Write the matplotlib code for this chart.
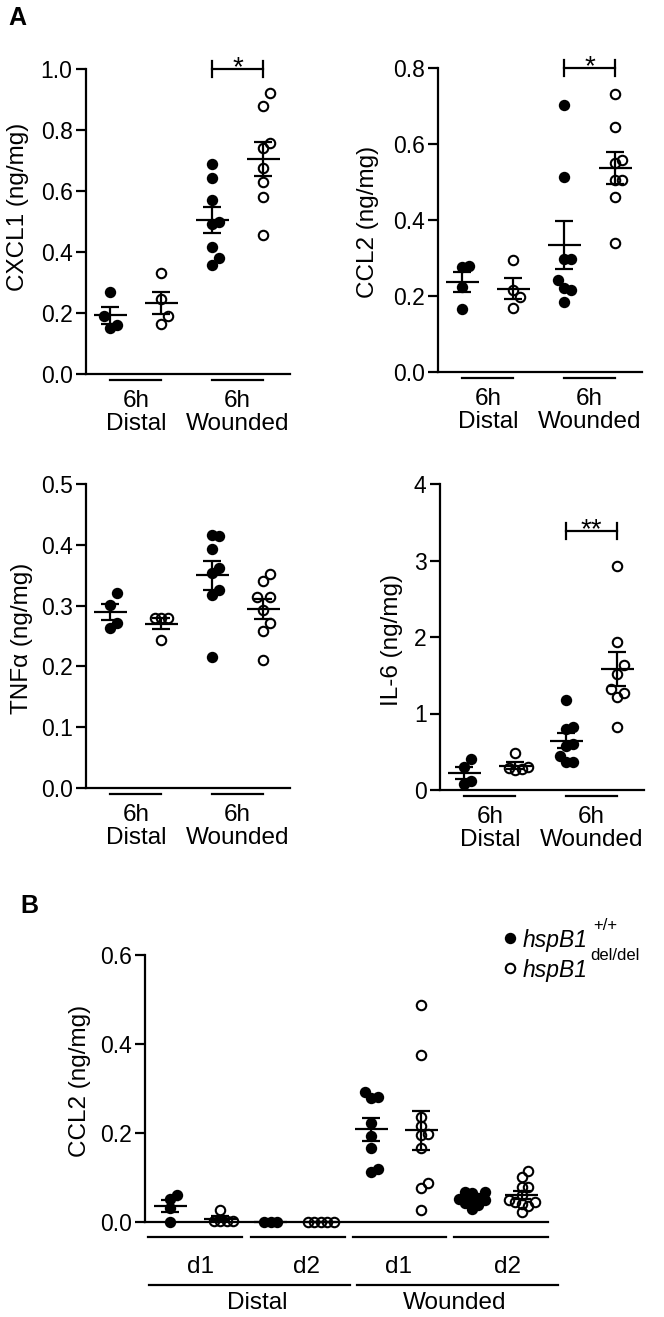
import numpy as np
import matplotlib
matplotlib.use("Agg")
import matplotlib.pyplot as plt

plt.rcParams['font.family'] = ['Liberation Sans', 'DejaVu Sans']

W, H, DPI = 664, 1317, 100

# ---- panel A: 6h, Distal / Wounded, WT (filled) vs KO (open) ----
SITES_A = ["Distal", "Wounded"]
TIME_A = "6h"

CXCL1_WT = [[0.27, 0.19, 0.16, 0.15],
            [0.689, 0.643, 0.570, 0.492, 0.498, 0.416, 0.357, 0.380]]
CXCL1_KO = [[0.33, 0.245, 0.19, 0.165],
            [0.921, 0.879, 0.757, 0.741, 0.675, 0.630, 0.580, 0.456]]

CCL2_WT = [[0.276, 0.280, 0.224, 0.166],
           [0.703, 0.513, 0.297, 0.297, 0.242, 0.221, 0.216, 0.184]]
CCL2_KO = [[0.295, 0.216, 0.197, 0.168],
           [0.731, 0.645, 0.558, 0.550, 0.505, 0.505, 0.461, 0.339]]

TNF_WT = [[0.321, 0.301, 0.271, 0.263],
          [0.414, 0.416, 0.393, 0.362, 0.354, 0.326, 0.317, 0.215]]
TNF_KO = [[0.279, 0.279, 0.279, 0.243],
          [0.352, 0.340, 0.314, 0.314, 0.293, 0.271, 0.258, 0.211]]

IL6_WT = [[0.40, 0.30, 0.12, 0.08],
          [1.18, 0.82, 0.80, 0.60, 0.57, 0.45, 0.37, 0.37]]
IL6_KO = [[0.48, 0.30, 0.29, 0.27, 0.26],
          [2.93, 1.93, 1.64, 1.51, 1.32, 1.27, 1.21, 0.83]]

# ---- panel B: CCL2 at d1 / d2, Distal / Wounded ----
SITES_B = ["Distal", "Wounded"]
DAYS_B = ["d1", "d2"]
CCL2B_WT = [[0.061, 0.052, 0.031, 0.0],
            [0.0, 0.0, 0.0],
            [0.292, 0.281, 0.279, 0.222, 0.193, 0.166, 0.119, 0.112],
            [0.068, 0.067, 0.066, 0.055, 0.052, 0.050, 0.046, 0.042, 0.038, 0.030]]
CCL2B_KO = [[0.028, 0.002, 0.002, 0.002, 0.002],
            [0.0, 0.0, 0.0, 0.0, 0.0],
            [0.488, 0.375, 0.236, 0.216, 0.198, 0.196, 0.166, 0.088, 0.076, 0.027],
            [0.115, 0.102, 0.078, 0.078, 0.060, 0.050, 0.045, 0.045, 0.040, 0.036, 0.022]]

LEGEND = ["+/+", "del/del"]

LW = 1.6
TICK_FS = 16.5
LAB_FS = 17.5
MS_FILL = 8.2
MS_OPEN = 6.8

fig = plt.figure(figsize=(W / DPI, H / DPI), dpi=DPI)


def add_ax(x0, x1, ytop, ybot, xlim, ylim, yticks, fmt, rowh=13.0):
    ax = fig.add_axes([x0 / W, 1 - ybot / H, (x1 - x0) / W, (ybot - ytop) / H])
    ax.set_xlim(*xlim)
    ax.set_ylim(*ylim)
    for s in ("top", "right"):
        ax.spines[s].set_visible(False)
    for s in ("left", "bottom"):
        ax.spines[s].set_linewidth(LW)
    ax.set_xticks([])
    ax.set_yticks(yticks)
    ax.set_yticklabels([fmt.format(t) for t in yticks])
    ax.tick_params(axis="y", length=7.2, width=LW, labelsize=TICK_FS, pad=2.5)
    ax.ppx = (x1 - x0) / (xlim[1] - xlim[0])    # px per x unit
    ax.ppy = (ybot - ytop) / (ylim[1] - ylim[0])  # px per y unit
    ax.hpx = ybot - ytop
    ax.rowh = rowh
    return ax


def swarm(vals, ppy, h, step=6.5):
    # simple column scatter: shift sideways if a point sits too close above/below
    offs = np.zeros(len(vals))
    placed = []
    cands = [0.0] + [s * k * step for k in range(1, 8) for s in (1, -1)]
    for i in np.argsort(vals, kind="stable"):
        y = vals[i] * ppy
        for c in cands:
            if all(abs(c - px) > step * 0.9 or abs(y - py) >= h for px, py in placed):
                break
        placed.append((c, y))
        offs[i] = c
    return offs


def draw_group(ax, x, vals, filled):
    vals = np.asarray(vals, dtype=float)
    xs = x + swarm(vals, ax.ppy, ax.rowh) / ax.ppx
    if filled:
        ax.plot(xs, vals, "o", ms=MS_FILL, mfc="black", mec="black", mew=0,
                ls="none", clip_on=False, zorder=3)
    else:
        ax.plot(xs, vals, "o", ms=MS_OPEN, mfc="none", mec="black", mew=1.5,
                ls="none", clip_on=False, zorder=3)
    m = vals.mean()
    sem = vals.std(ddof=1) / np.sqrt(len(vals))
    kw = dict(color="black", lw=LW, zorder=4, clip_on=False, solid_capstyle="butt")
    mw = 16.5 / ax.ppx
    cw = 9.0 / ax.ppx
    ax.plot([x - mw, x + mw], [m, m], **kw)
    ax.plot([x, x], [m - sem, m + sem], **kw)
    ax.plot([x - cw, x + cw], [m + sem, m + sem], **kw)
    ax.plot([x - cw, x + cw], [m - sem, m - sem], **kw)


def below(ax, x0, x1, dpx):
    ax.plot([x0, x1], [-dpx / ax.hpx] * 2, color="black", lw=LW,
            transform=ax.get_xaxis_transform(), clip_on=False)


def label_below(ax, x, dpx, txt):
    ax.text(x, -dpx / ax.hpx, txt, ha="center", va="center", fontsize=LAB_FS,
            transform=ax.get_xaxis_transform())


def sig(ax, x0, x1, y, stars):
    t = 8 / ax.ppy
    kw = dict(color="black", lw=LW, clip_on=False)
    ax.plot([x0, x1], [y, y], **kw)
    ax.plot([x0, x0], [y - t, y + t], **kw)
    ax.plot([x1, x1], [y - t, y + t], **kw)
    ax.text((x0 + x1) / 2, y - 6 / ax.ppy, stars, ha="center", va="baseline",
            fontsize=20)


def panel_a(ax, wt, ko):
    for i in range(2):
        draw_group(ax, 2 * i + 1, wt[i], True)
        draw_group(ax, 2 * i + 2, ko[i], False)
    for i, site in enumerate(SITES_A):
        below(ax, 2 * i + 1, 2 * i + 2, 6)
        label_below(ax, 2 * i + 1.5, 27, TIME_A)
        label_below(ax, 2 * i + 1.5, 50, site)


XL = (0.52, 4.53)
ax1 = add_ax(86, 290, 69, 374, XL, (0, 1.0), [0, 0.2, 0.4, 0.6, 0.8, 1.0], "{:.1f}")
panel_a(ax1, CXCL1_WT, CXCL1_KO)
sig(ax1, 3, 4, 1.0, "*")

ax2 = add_ax(438, 642, 68, 372, XL, (0, 0.8), [0, 0.2, 0.4, 0.6, 0.8], "{:.1f}")
panel_a(ax2, CCL2_WT, CCL2_KO)
sig(ax2, 3, 4, 0.8, "*")

ax3 = add_ax(86, 290, 484, 788, XL, (0, 0.5), [0, 0.1, 0.2, 0.3, 0.4, 0.5], "{:.1f}")
panel_a(ax3, TNF_WT, TNF_KO)

ax4 = add_ax(440, 644, 484, 790, XL, (0, 4), [0, 1, 2, 3, 4], "{:d}")
panel_a(ax4, IL6_WT, IL6_KO)
sig(ax4, 3, 4, 3.38, "**")

# panel B
axb = add_ax(145, 548, 955, 1222, (0.5, 8.52), (0, 0.6), [0, 0.2, 0.4, 0.6], "{:.1f}",
             rowh=7.0)
for i in range(4):
    draw_group(axb, 2 * i + 1, CCL2B_WT[i], True)
    draw_group(axb, 2 * i + 2, CCL2B_KO[i], False)
for a, b in [(0.56, 2.44), (2.6, 4.48), (4.64, 6.5), (6.64, 8.52)]:
    below(axb, a, b, 15)
for x, d in zip([1.6, 3.72, 5.55, 7.72], DAYS_B * 2):
    label_below(axb, x, 45, d)
below(axb, 0.58, 4.58, 63)
below(axb, 4.72, 8.72, 63)
for x, s in zip([2.73, 6.67], SITES_B):
    label_below(axb, x, 81, s)

# overlay in pixel coordinates for letters, y labels and legend
ov = fig.add_axes([0, 0, 1, 1])
ov.set_xlim(0, W)
ov.set_ylim(H, 0)
ov.axis("off")

ov.text(8, 18, "A", fontsize=18, fontweight="bold", va="center", ha="left")
ov.text(20, 906, "B", fontsize=18, fontweight="bold", va="center", ha="left")

for x, y, t in [(18, 207, "CXCL1 (ng/mg)"), (368, 222, "CCL2 (ng/mg)"),
                (22, 638, "TNF\u03b1 (ng/mg)"), (392, 640, "IL-6 (ng/mg)"),
                (80, 1081, "CCL2 (ng/mg)")]:
    ov.text(x, y, t, rotation=90, ha="center", va="center", fontsize=LAB_FS)

ov.plot([510], [938], "o", ms=MS_FILL, mfc="black", mec="black", mew=0)
ov.plot([510], [968], "o", ms=MS_OPEN, mfc="none", mec="black", mew=1.5)
ov.text(523, 940, "hspB1", style="italic", fontsize=16.5, va="center", ha="left")
ov.text(523, 970, "hspB1", style="italic", fontsize=16.5, va="center", ha="left")
ov.text(593, 926, LEGEND[0], fontsize=12, va="center", ha="left")
ov.text(590, 955, LEGEND[1], fontsize=12, va="center", ha="left")

fig.savefig("out.png", dpi=DPI)
